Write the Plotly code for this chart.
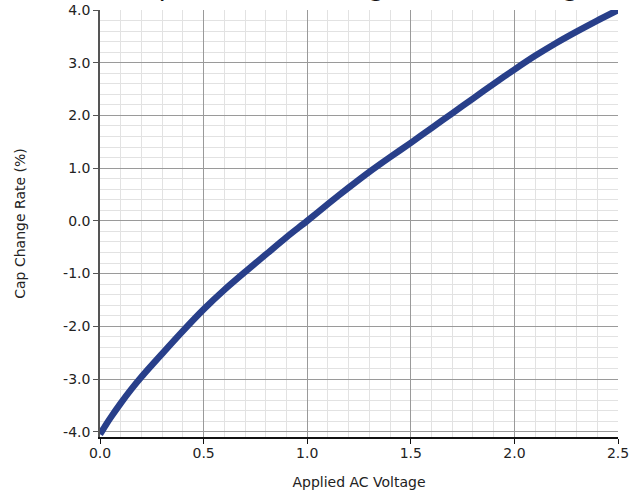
import plotly.graph_objects as go

# Data
voltage = [0.0, 0.025, 0.05, 0.1, 0.15, 0.2, 0.3, 0.4, 0.5, 0.6, 0.7, 0.8, 0.9, 1.0,
           1.1, 1.2, 1.3, 1.4, 1.5, 1.6, 1.7, 1.8, 1.9, 2.0, 2.1, 2.2, 2.3, 2.4, 2.5]
cap_change = [-4.05, -3.89, -3.74, -3.46, -3.20, -2.96, -2.52, -2.09, -1.68, -1.31,
              -0.97, -0.64, -0.31, 0.0, 0.32, 0.63, 0.93, 1.21, 1.48, 1.76, 2.04,
              2.32, 2.60, 2.87, 3.13, 3.37, 3.59, 3.80, 4.0]

x_tickvals = [0.0, 0.5, 1.0, 1.5, 2.0, 2.5]
x_ticktext = ["0.0", "0.5", "1.0", "1.5", "2.0", "2.5"]
y_tickvals = [-4, -3, -2, -1, 0, 1, 2, 3, 4]
y_ticktext = ["-4.0", "-3.0", "-2.0", "-1.0", "0.0", "1.0", "2.0", "3.0", "4.0"]

title_text = "Capacitance Change vs AC Voltage"
x_title = "Applied AC Voltage"
y_title = "Cap Change Rate (%)"

font_family = "DejaVu Sans"
line_color = "#283f8a"

fig = go.Figure()
fig.add_trace(go.Scatter(
    x=voltage, y=cap_change, mode="lines",
    line=dict(color=line_color, width=6.5, shape="spline", smoothing=0.8),
    showlegend=False,
))

fig.update_layout(
    width=644, height=496,
    margin=dict(l=100, r=26, t=10, b=59, autoexpand=False),
    paper_bgcolor="white", plot_bgcolor="white",
    font=dict(family=font_family, size=14, color="#222222"),
    annotations=[dict(
        text=title_text, xref="paper", yref="paper", x=0.5, y=1,
        xanchor="center", yanchor="bottom", yshift=6.5, showarrow=False,
        font=dict(family=font_family, size=27, color="#111111"),
    )],
)

fig.update_xaxes(
    range=[0, 2.5], tickvals=x_tickvals, ticktext=x_ticktext,
    showgrid=True, gridcolor="#9a9a9a", gridwidth=1,
    minor=dict(dtick=0.1, showgrid=True, gridcolor="#e2e2e2", gridwidth=1),
    showline=True, linecolor="#111111", linewidth=1.5,
    ticks="outside", ticklen=5, tickcolor="#111111",
    ticklabelstandoff=-3, ticklabeloverflow="allow",
    zeroline=False, automargin=False,
    title=dict(text=x_title, font=dict(size=14), standoff=18),
)
fig.update_yaxes(
    range=[-4.1, 4.0], tickvals=y_tickvals, ticktext=y_ticktext,
    showgrid=True, gridcolor="#9a9a9a", gridwidth=1,
    minor=dict(dtick=0.2, showgrid=True, gridcolor="#e2e2e2", gridwidth=1),
    showline=True, linecolor="#555555", linewidth=1.5,
    ticks="outside", ticklen=5, tickcolor="#555555",
    ticklabeloverflow="allow",
    zeroline=False, automargin=False,
    title=dict(text=y_title, font=dict(size=14), standoff=34),
)

fig.write_html("out.html", config={"displayModeBar": False},
               post_script="document.body.style.margin='0';")
